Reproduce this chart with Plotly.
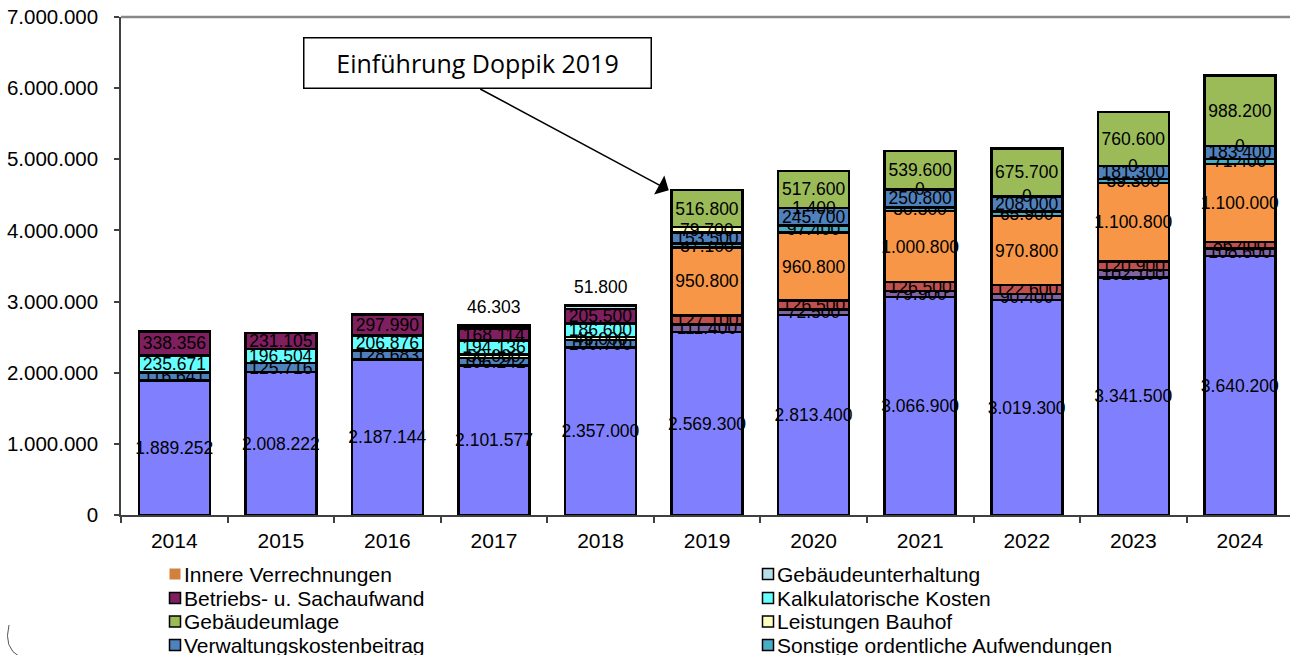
import plotly.graph_objects as go

# ---------------- data ----------------
years = ["2014", "2015", "2016", "2017", "2018", "2019", "2020", "2021", "2022", "2023", "2024"]

basis = [1889252, 2008222, 2187144, 2101577, 2357000, 2569300, 2813400, 3066900, 3019300, 3341500, 3640200]
lila = [None, None, None, None, None, 111400, 72500, 79900, 90400, 102100, 108600]
rot = [None, None, None, None, None, 127100, 126500, 126500, 122600, 120900, 86400]
innere = [None, None, None, None, None, 950800, 960800, 1000800, 970800, 1100800, 1100000]
sonstige = [None, None, None, None, None, 57100, 97400, 50500, 65900, 59300, 71400]
verwaltung = [116641, 125716, 128683, 106242, 100700, 153500, 245700, 250800, 208000, 181300, 183400]
bauhof = [None, None, None, 50000, 45000, 79700, 1400, 0, 0, 0, 0]
kalkulatorisch = [235671, 196504, 206876, 194136, 186600, None, None, None, None, None, None]
betrieb = [338356, 231105, 297990, 168114, 205500, None, None, None, None, None, None]
unterhaltung = [None, None, None, 46303, 51800, None, None, None, None, None, None]
umlage = [None, None, None, None, None, 516800, 517600, 539600, 675700, 760600, 988200]

legend_left = ["Innere Verrechnungen", "Betriebs- u. Sachaufwand", "Gebäudeumlage", "Verwaltungskostenbeitrag"]
legend_right = ["Gebäudeunterhaltung", "Kalkulatorische Kosten", "Leistungen Bauhof",
                "Sonstige ordentliche Aufwendungen"]
annotation_text = "Einführung Doppik 2019"

# ---------------- styles ----------------
FONT = "Liberation Sans, Arial, sans-serif"
series = [
    ("Basis", basis, "#8080FF", True),
    ("Violett", lila, "#8064A2", True),
    ("Rot", rot, "#C0504D", True),
    ("Innere Verrechnungen", innere, "#F79646", True),
    ("Sonstige ordentliche Aufwendungen", sonstige, "#4BACC6", True),
    ("Verwaltungskostenbeitrag", verwaltung, "#4F81BD", True),
    ("Leistungen Bauhof", bauhof, "#FFFFC0", False),
    ("Kalkulatorische Kosten", kalkulatorisch, "#66FFFF", True),
    ("Betriebs- u. Sachaufwand", betrieb, "#7F1F5F", True),
    ("Gebäudeunterhaltung", unterhaltung, "#B7DEE8", False),
    ("Gebäudeumlage", umlage, "#9BBB59", True),
]
legend_colors = {
    "Innere Verrechnungen": "#D2803E",
    "Betriebs- u. Sachaufwand": "#7F1F5F",
    "Gebäudeumlage": "#9BBB59",
    "Verwaltungskostenbeitrag": "#4F81BD",
    "Gebäudeunterhaltung": "#B7DEE8",
    "Kalkulatorische Kosten": "#66FFFF",
    "Leistungen Bauhof": "#FFFFC0",
    "Sonstige ordentliche Aufwendungen": "#4BACC6",
}

W, H = 1290, 655
ML, MR, MT, MB = 121, 0, 17, 140
PW, PH = W - ML - MR, H - MT - MB


def px(x):
    return (x - ML) / PW


def py(y):
    return (H - MB - y) / PH


def fmt(v):
    return f"{v:,}".replace(",", ".")


fig = go.Figure()
cum = [0] * len(years)
bauhof_mid = [None] * len(years)
for name, vals, color, labelled in series:
    if name == "Leistungen Bauhof":
        bauhof_mid = [c + (v or 0) / 2 if v is not None else None for c, v in zip(cum, vals)]
    fig.add_trace(go.Bar(
        x=years, y=vals, name=name, showlegend=False,
        marker=dict(color=color, line=dict(color="black", width=2.5)),
        texttemplate="%{y:,.0f}" if labelled else None,
        textposition="inside" if labelled else "none",
        insidetextanchor="middle", textangle=0, constraintext="none",
        insidetextfont=dict(family=FONT, size=17.5, color="black"),
        hoverinfo="x+y+name",
    ))
    cum = [c + (v or 0) for c, v in zip(cum, vals)]
totals = cum

lab_font = dict(family=FONT, size=17.5, color="black")
annotations = []
# Leistungen Bauhof labels (incl. zeros) -- category index used as x position
for i, v in enumerate(bauhof):
    if v is not None:
        annotations.append(dict(x=i, y=bauhof_mid[i], xref="x", yref="y", text=fmt(v),
                                showarrow=False, font=lab_font))
# Gebäudeunterhaltung labels above the bars
for i, v in enumerate(unterhaltung):
    if v is not None:
        annotations.append(dict(x=i, y=totals[i], xref="x", yref="y", text=fmt(v),
                                showarrow=False, yshift=18, font=lab_font))
# arrow to 2019
i19 = years.index("2019")
annotations.append(dict(x=i19 - 0.36, y=totals[i19], xref="x", yref="y", text="",
                        showarrow=True, ax=-190, ay=-102, arrowhead=1, arrowsize=2.4,
                        arrowwidth=1.5, arrowcolor="black", standoff=0))
annotations.append(dict(x=px(477.5), y=py(62.5), xref="paper", yref="paper", text=annotation_text,
                        showarrow=False, font=dict(family="Open Sans, Noto Sans, sans-serif", size=25, color="black"),
                        bordercolor="black", borderwidth=1.5, borderpad=4, bgcolor="white",
                        width=338, height=41, xanchor="center", yanchor="middle"))

shapes = [dict(type="line", xref="paper", yref="paper", x0=0, x1=1, y0=1, y1=1,
               line=dict(color="#888888", width=2.5))]
# manual legend
rows = [574, 598, 621.5, 645]
for col, (names, mx, tx) in enumerate([(legend_left, 169.5, 182), (legend_right, 762.5, 775)]):
    for r, nm in enumerate(names):
        yc = rows[r]
        no_border = nm == "Innere Verrechnungen"
        shapes.append(dict(type="rect", xref="paper", yref="paper",
                           x0=px(mx), x1=px(mx + 11), y0=py(yc + 5.5), y1=py(yc - 5.5),
                           fillcolor=legend_colors[nm],
                           line=dict(color="black", width=0 if no_border else 1.5)))
        annotations.append(dict(x=px(tx), y=py(yc), xref="paper", yref="paper", text=nm,
                                showarrow=False, xanchor="left", yanchor="middle",
                                font=dict(family=FONT, size=21, color="black")))
# rounded frame corner at bottom left
shapes.append(dict(type="path", xref="paper", yref="paper", line=dict(color="#555555", width=1),
                   path=f"M {px(9)},{py(625)} Q {px(3)},{py(648)} {px(20)},{py(657)}"))

fig.update_layout(
    width=W, height=H, margin=dict(l=ML, r=MR, t=MT, b=MB),
    barmode="stack", bargap=0.334, showlegend=False,
    separators=",.",
    plot_bgcolor="white", paper_bgcolor="white",
    uniformtext=dict(minsize=17.5, mode="show"),
    annotations=annotations, shapes=shapes,
    font=dict(family=FONT, color="black"),
)
fig.update_xaxes(type="category", range=[-0.5, 10.47], showline=True, linecolor="#404040", linewidth=1.5,
                 ticks="outside", tickson="boundaries", ticklen=6, tickcolor="#404040", tickwidth=1.5,
                 tickfont=dict(family=FONT, size=21, color="black"), showgrid=False,
                 ticklabelstandoff=6)
fig.update_yaxes(range=[0, 7000000], dtick=1000000, tickformat=",.0f", showline=True,
                 linecolor="#404040", linewidth=1.5, ticks="outside", ticklen=5, tickcolor="#404040",
                 tickwidth=1.5, tickfont=dict(family=FONT, size=20.5, color="black"), showgrid=False,
                 zeroline=False, ticklabelstandoff=12)

fig.write_html("out.html", config={"displayModeBar": False},
               post_script="document.body.style.margin='0';")
